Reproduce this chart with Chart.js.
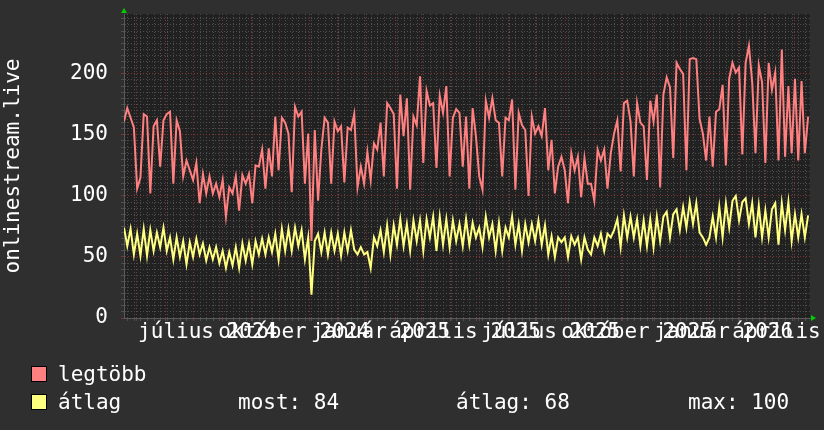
<!DOCTYPE html>
<html>
<head>
<meta charset="utf-8">
<title>onlinestream.live</title>
<script src="https://cdn.jsdelivr.net/npm/chart.js@4.4.1/dist/chart.umd.min.js"></script>
<style>
    html, body { margin: 0; padding: 0; background: #2f2f2f; }
    canvas { display: block; }
</style>
</head>
<body>
<canvas id="chart" width="824" height="430"></canvas>
<script>
// Time range: 2024-04-18 .. 2026-04-18, one sample every 3.5 days
const START = Date.UTC(2024, 3, 18);
const STEP_DAYS = 3.5;
const SPAN_DAYS = 730;

// legtöbb (max) series
const maxValues = [
    161,172,164,156,106,115,167,165,102,157,
    162,124,162,167,169,110,162,153,116,129,
    121,113,127,94,118,102,116,102,110,99,
    113,83,107,102,116,88,117,110,118,94,
    125,124,138,106,139,116,165,121,164,160,
    151,103,173,165,169,110,151,63,154,96,
    138,164,160,110,161,153,157,111,156,154,
    167,107,124,110,136,113,143,138,160,116,
    176,172,167,106,183,149,180,105,165,158,
    198,127,186,174,176,123,182,168,190,116,
    164,171,168,124,165,106,172,149,116,105,
    178,164,180,162,160,116,164,162,179,105,
    168,158,154,100,165,151,157,149,172,121,
    146,102,124,132,121,94,135,121,132,99,
    131,110,110,96,138,129,138,106,135,151,
    162,120,176,178,161,116,176,160,157,113,
    178,161,183,107,183,197,189,131,209,204,
    200,121,212,213,212,163,151,129,165,124,
    169,171,191,125,196,209,201,205,134,209,
    223,193,135,207,193,127,209,187,201,129,
    220,132,190,135,196,129,194,135,165
];

// átlag (average) series
const avgValues = [
    74,59,73,52,69,51,73,51,72,55,
    70,58,74,55,66,48,66,50,63,44,
    62,50,65,52,61,47,58,48,58,45,
    55,41,54,43,58,41,61,47,61,44,
    63,52,65,52,66,54,69,48,73,55,
    73,55,74,59,72,48,66,19,63,69,
    54,70,52,70,55,69,51,70,55,72,
    56,52,58,52,54,41,66,59,72,54,
    76,52,76,60,81,59,77,55,80,63,
    80,55,81,66,83,55,83,60,81,58,
    80,63,77,59,81,60,78,66,74,58,
    83,66,77,55,78,55,74,66,83,60,
    77,55,77,62,77,63,80,60,76,52,
    67,50,66,62,66,50,67,60,66,48,
    66,56,52,66,59,69,55,69,66,72,
    81,58,84,66,83,66,81,59,80,59,
    81,58,83,63,83,87,66,85,89,72,
    91,74,95,77,94,70,66,60,66,83,
    66,91,66,94,74,96,100,80,95,98,
    77,94,66,92,66,88,66,89,94,60,
    94,72,95,63,85,66,85,66,84
];

// x labels (every 3 months, centred half a month after the month start)
const labelMonths = [[2024, 6], [2024, 9], [2025, 0], [2025, 3], [2025, 6], [2025, 9], [2026, 0], [2026, 3]];
const xLabels = ['július 2024', 'október 2024', 'január 2025', 'április 2025',
                 'július 2025', 'október 2025', 'január 2026', 'április 2026'];
const yLabels = [0, 50, 100, 150, 200];

const seriesNames = ['legtöbb', 'átlag'];
const statTexts = ['most: 84', 'átlag: 68', 'max: 100'];

const FONT = '"DejaVu Sans Mono", "Liberation Mono", monospace';
const MAJOR = '#7e3434';
const MINOR = '#4e4e4e';
const PINK = '#ff8080';
const YELLOW = '#ffff80';

function dayOf(y, m, d) {
    return (Date.UTC(y, m, d) - START) / 86400000;
}

// grid: red line at every month start, grey dotted line every week
const gridTicks = [];
for (let k = 0; k < 25; k++) {
    const d = dayOf(2024, 4 + k, 1);
    if (d <= SPAN_DAYS) gridTicks.push({ value: d, major: true });
}
for (let d = dayOf(2024, 3, 22); d <= SPAN_DAYS; d += 7) {
    if (!gridTicks.some(t => Math.abs(t.value - d) < 1)) gridTicks.push({ value: d, major: false });
}
gridTicks.sort((a, b) => a.value - b.value);

const labelDays = labelMonths.map(([y, m]) => dayOf(y, m, 1) + 15);

const decor = {
    id: 'decor',
    beforeDraw(chart) {
        const { ctx, chartArea: a } = chart;
        ctx.save();
        ctx.fillStyle = '#2f2f2f';
        ctx.fillRect(0, 0, chart.width, chart.height);
        ctx.fillStyle = '#212121';
        ctx.fillRect(a.left, a.top, a.right - a.left, a.bottom - a.top);
        ctx.restore();
    },
    afterDraw(chart) {
        const { ctx, chartArea: a } = chart;
        ctx.save();
        // axis arrows
        ctx.fillStyle = '#00cc00';
        ctx.beginPath();
        ctx.moveTo(a.left - 3, a.top - 1);
        ctx.lineTo(a.left + 3, a.top - 1);
        ctx.lineTo(a.left, a.top - 6);
        ctx.fill();
        ctx.beginPath();
        ctx.moveTo(a.right + 1, a.bottom - 3);
        ctx.lineTo(a.right + 1, a.bottom + 3);
        ctx.lineTo(a.right + 6, a.bottom);
        ctx.fill();

        // legend
        const colors = [PINK, YELLOW];
        const rows = [381, 409];
        ctx.font = '21px ' + FONT;
        ctx.textBaseline = 'alphabetic';
        ctx.textAlign = 'left';
        seriesNames.forEach((name, i) => {
            const top = rows[i] - 15;
            ctx.fillStyle = colors[i];
            ctx.fillRect(31, top, 16, 16);
            ctx.strokeStyle = '#000';
            ctx.lineWidth = 1;
            ctx.strokeRect(31.5, top + 0.5, 15, 15);
            ctx.fillStyle = '#ffffff';
            ctx.fillText(name, 58, rows[i]);
        });
        const statX = [238, 456, 688];
        statTexts.forEach((t, i) => ctx.fillText(t, statX[i], rows[1]));
        ctx.restore();
    }
};

new Chart(document.getElementById('chart'), {
    type: 'line',
    data: {
        datasets: [
            {
                label: seriesNames[0],
                data: maxValues.map((v, i) => ({ x: i * STEP_DAYS, y: v })),
                borderColor: PINK,
                borderWidth: 2,
                pointRadius: 0,
                tension: 0,
                fill: false,
                xAxisID: 'x',
                yAxisID: 'y'
            },
            {
                label: seriesNames[1],
                data: avgValues.map((v, i) => ({ x: i * STEP_DAYS, y: v })),
                borderColor: YELLOW,
                borderWidth: 2,
                pointRadius: 0,
                tension: 0,
                fill: false,
                xAxisID: 'x',
                yAxisID: 'y'
            }
        ]
    },
    options: {
        responsive: false,
        animation: false,
        events: [],
        layout: { padding: { top: 14, right: 14, left: 0, bottom: 0 } },
        plugins: {
            legend: { display: false },
            tooltip: { enabled: false }
        },
        scales: {
            x: {
                type: 'linear',
                position: 'bottom',
                min: 0,
                max: SPAN_DAYS,
                afterBuildTicks: s => { s.ticks = gridTicks.map(t => ({ value: t.value, major: t.major })); },
                ticks: { display: false, autoSkip: false },
                grid: {
                    color: c => (c.tick && c.tick.major) ? MAJOR : MINOR,
                    tickColor: c => (c.tick && c.tick.major) ? MAJOR : MINOR,
                    tickLength: 3,
                    lineWidth: 1
                },
                border: { display: true, color: '#5a5a5a', dash: [1, 2] },
                afterFit: s => { s.height = 0; s.paddingLeft = 0; s.paddingRight = 0; }
            },
            xl: {
                type: 'linear',
                position: 'bottom',
                min: 0,
                max: SPAN_DAYS,
                afterBuildTicks: s => { s.ticks = labelDays.map(v => ({ value: v })); },
                ticks: {
                    autoSkip: false,
                    maxRotation: 0,
                    minRotation: 0,
                    color: '#ffffff',
                    font: { family: FONT, size: 21 },
                    padding: 2,
                    callback: (v, i) => xLabels[i]
                },
                grid: { display: false, drawTicks: false },
                border: { display: false },
                afterFit: s => { s.height = 112; s.paddingLeft = 0; s.paddingRight = 0; }
            },
            y: {
                min: 0,
                max: 249,
                afterBuildTicks: s => {
                    const t = [];
                    for (let v = 0; v < 249; v += 5) t.push({ value: v });
                    s.ticks = t;
                },
                ticks: {
                    autoSkip: false,
                    color: '#ffffff',
                    font: { family: FONT, size: 21 },
                    padding: 13,
                    callback: v => yLabels.includes(v) ? String(v) : ''
                },
                grid: {
                    color: c => (c.tick && c.tick.value % 50 === 0) ? MAJOR : MINOR,
                    tickColor: c => (c.tick && c.tick.value % 50 === 0) ? MAJOR : MINOR,
                    tickLength: 3,
                    lineWidth: 1
                },
                border: { display: true, color: '#5a5a5a', dash: [1, 2] },
                title: {
                    display: true,
                    text: 'onlinestream.live',
                    color: '#ffffff',
                    font: { family: FONT, size: 21 },
                    padding: { top: 1, bottom: 0 }
                },
                afterFit: s => { s.width = 124; s.paddingTop = 0; s.paddingBottom = 0; }
            }
        }
    },
    plugins: [decor]
});
</script>
</body>
</html>
